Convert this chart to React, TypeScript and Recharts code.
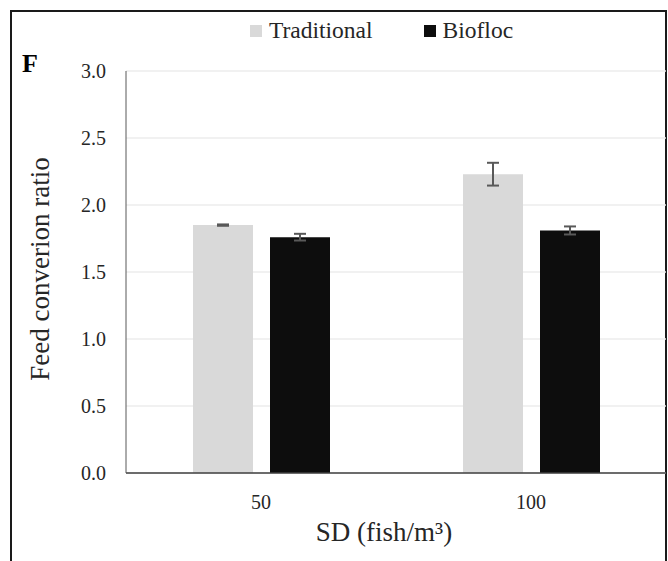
import {
  BarChart,
  Bar,
  XAxis,
  YAxis,
  CartesianGrid,
  ErrorBar,
  Legend,
  Label,
} from "recharts";

const categories = ["50", "100"];
const seriesNames = ["Traditional", "Biofloc"];
const traditional = [1.85, 2.23];
const traditionalErr = [0.005, 0.085];
const biofloc = [1.76, 1.81];
const bioflocErr = [0.025, 0.03];
const yTicks = [0, 0.5, 1, 1.5, 2, 2.5, 3];

const FONT = "Liberation Serif, DejaVu Serif, Times, serif";
const INK = "#262626";

const data = categories.map((c, i) => ({
  sd: c,
  traditional: traditional[i],
  traditionalErr: traditionalErr[i],
  biofloc: biofloc[i],
  bioflocErr: bioflocErr[i],
}));

function LegendBox({ payload }: { payload?: Array<{ value: string; color: string }> }) {
  if (!payload) return null;
  // keep the series order of the original legend
  const items = [...payload].sort((a, b) => seriesNames.indexOf(a.value) - seriesNames.indexOf(b.value));
  return (
    <div style={{ display: "flex", fontFamily: FONT, fontSize: 23.5, lineHeight: "23px", color: INK }}>
      {items.map((p, i) => (
        <div key={p.value} style={{ display: "flex", alignItems: "center", marginRight: i === 0 ? 51 : 0 }}>
          <span style={{ display: "inline-block", width: 12, height: 12, background: p.color, marginRight: 7 }} />
          {p.value}
        </div>
      ))}
    </div>
  );
}

export default function App() {
  return (
    <div
      style={{
        position: "absolute",
        left: 0,
        top: 0,
        width: 668,
        height: 561,
        overflow: "hidden",
        background: "#fff",
        fontFamily: FONT,
      }}
    >
      <div
        style={{
          position: "absolute",
          left: 10,
          top: 10,
          width: 657,
          height: 620,
          border: "2px solid #1a1a1a",
          boxSizing: "border-box",
        }}
      />
      <BarChart
        width={668}
        height={561}
        data={data}
        margin={{ top: 71, right: 2, bottom: 0, left: 0 }}
        barSize={60}
        barGap={17}
        style={{ position: "absolute", left: 0, top: 0, fontFamily: FONT }}
      >
        <CartesianGrid vertical={false} stroke="#ececec" strokeWidth={1.5} />
        <XAxis
          dataKey="sd"
          height={88}
          tickLine={false}
          tickSize={0}
          tickMargin={22}
          axisLine={{ stroke: "#3f3f3f", strokeWidth: 1.5 }}
          tick={{ fill: INK, fontSize: 20, fontFamily: FONT }}
        >
          <Label
            content={() => (
              <text x={384} y={541} textAnchor="middle" fill={INK} fontSize={27} style={{ fontFamily: FONT }}>
                SD (fish/m³)
              </text>
            )}
          />
        </XAxis>
        <YAxis
          width={126}
          domain={[0, 3]}
          ticks={yTicks}
          interval={0}
          tickLine={false}
          tickSize={0}
          tickMargin={20}
          tickFormatter={(v: number) => v.toFixed(1)}
          axisLine={{ stroke: "#595959", strokeWidth: 1 }}
          tick={{ fill: INK, fontSize: 20, fontFamily: FONT }}
        >
          <Label
            content={() => (
              <g style={{ fontFamily: FONT }}>
                <text
                  x={49}
                  y={269}
                  transform="rotate(-90, 49, 269)"
                  textAnchor="middle"
                  fill={INK}
                  fontSize={27}
                >
                  Feed converion ratio
                </text>
                <text x={22} y={72} fill="#000" fontSize={26} fontWeight="bold">
                  F
                </text>
              </g>
            )}
          />
        </YAxis>
        <Legend
          layout="horizontal"
          verticalAlign="middle"
          align="center"
          wrapperStyle={{ top: 19, left: 250, width: "auto" }}
          content={(props: any) => <LegendBox payload={props.payload} />}
        />
        <Bar dataKey="traditional" name="Traditional" fill="#d9d9d9" isAnimationActive={false}>
          <ErrorBar dataKey="traditionalErr" width={6} stroke="#595959" strokeWidth={2} direction="y" />
        </Bar>
        <Bar dataKey="biofloc" name="Biofloc" fill="#0d0d0d" isAnimationActive={false}>
          <ErrorBar dataKey="bioflocErr" width={6} stroke="#595959" strokeWidth={2} direction="y" />
        </Bar>
      </BarChart>
    </div>
  );
}
